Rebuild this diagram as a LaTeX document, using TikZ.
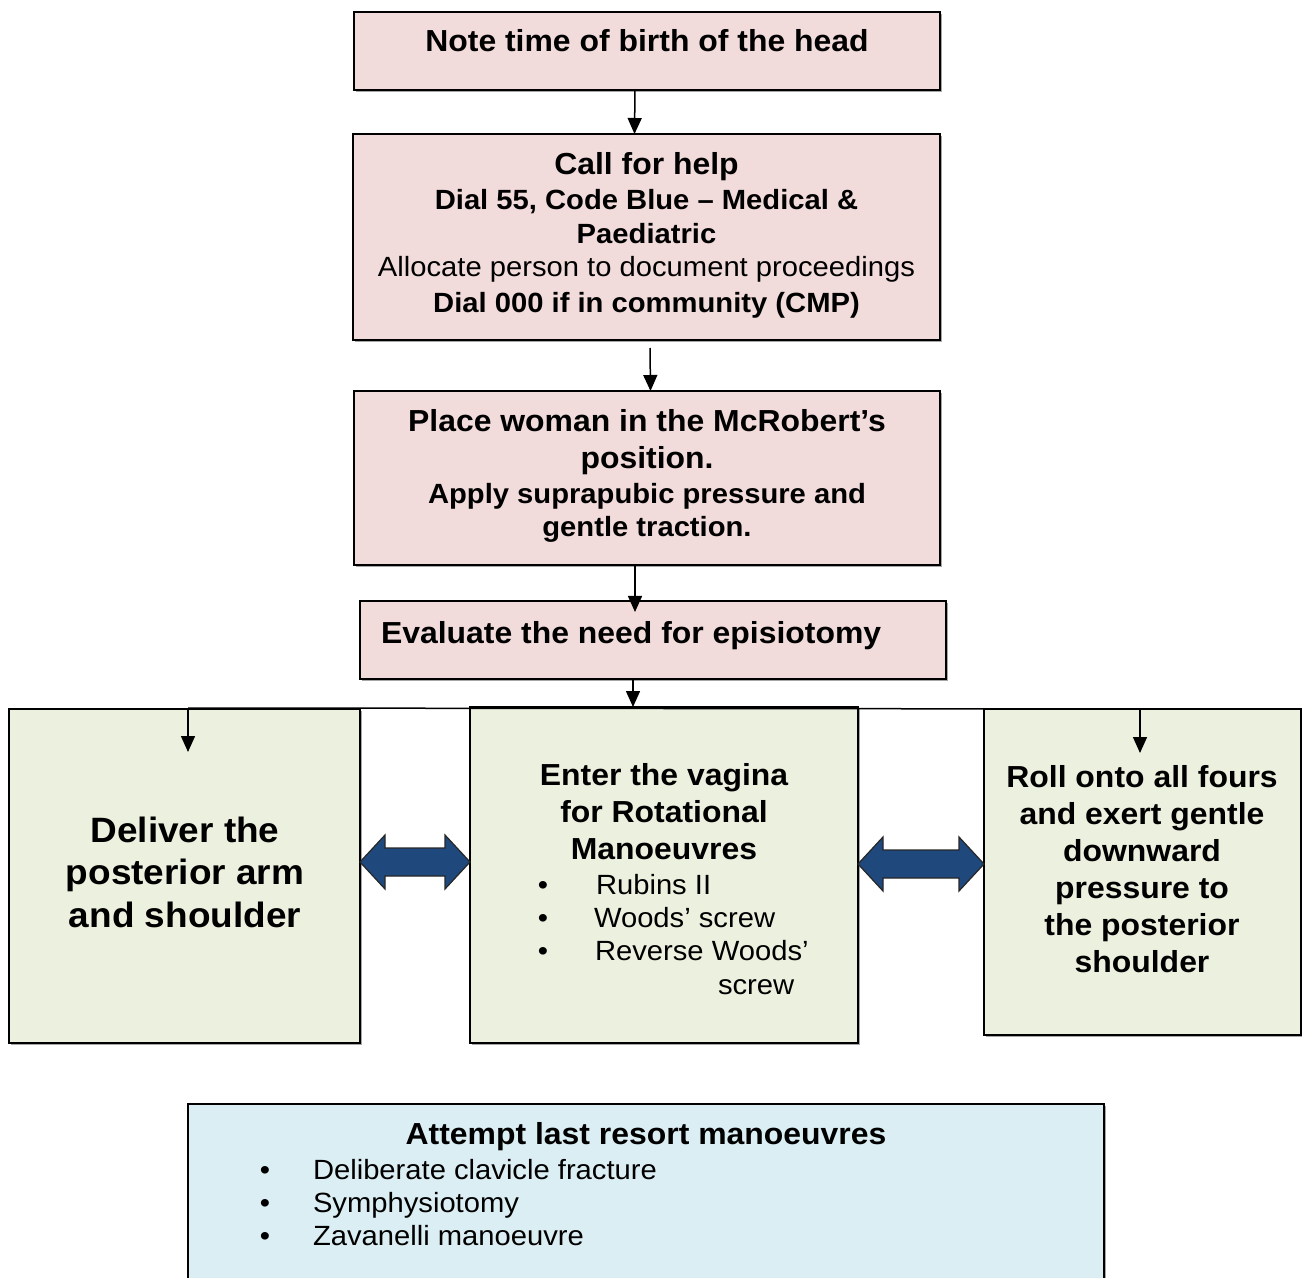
\documentclass[tikz,border=0pt]{standalone}
\usepackage{fontspec}
\setmainfont[FakeStretch=1.05]{Liberation Sans}
\newfontfamily\regfont[FakeStretch=1.05]{Liberation Sans}
\usetikzlibrary{arrows.meta,shadows}
\definecolor{pinkfill}{HTML}{F2DCDB}
\definecolor{greenfill}{HTML}{EBF1DE}
\definecolor{bluefill}{HTML}{DBEEF3}
\definecolor{navyfill}{HTML}{1F497D}
\newcommand{\fBig}{\fontsize{15.2}{18}\selectfont\bfseries}
\newcommand{\fMidB}{\fontsize{13.9}{17}\selectfont\bfseries}
\newcommand{\fReg}{\regfont\fontsize{13.9}{17}\selectfont}
\newcommand{\fHuge}{\fontsize{17.6}{21}\selectfont\bfseries}
\tikzset{
  boxbase/.style={draw=black, line width=0.75pt, inner sep=0pt, outer sep=0pt,
    drop shadow={shadow xshift=1pt, shadow yshift=-1pt, fill=black, opacity=0.35}},
  pinkbox/.style={boxbase, fill=pinkfill},
  greenbox/.style={boxbase, fill=greenfill},
  bluebox/.style={boxbase, fill=bluefill},
  txt/.style={inner sep=0pt, outer sep=0pt, anchor=base, yshift=-1pt},
  txtl/.style={inner sep=0pt, outer sep=0pt, anchor=base west, yshift=-1pt},
  conn/.style={line width=0.75pt, draw=black},
  arr/.style={conn, -{Triangle[width=7pt,length=8pt]}},
  dblarr/.style={fill=navyfill, draw=black!85, line width=0.6pt, line join=miter}
}
\newcommand{\dblarrow}[3]{%
  \path[dblarr] (#1,#3) -- ({#1+25},{#3-27}) -- ({#1+25},{#3-14}) -- ({#2-25},{#3-14})
    -- ({#2-25},{#3-27}) -- (#2,#3) -- ({#2-25},{#3+27}) -- ({#2-25},{#3+14})
    -- ({#1+25},{#3+14}) -- ({#1+25},{#3+27}) -- cycle;}
\begin{document}
\begin{tikzpicture}[x=0.5pt,y=-0.5pt]
\useasboundingbox (0,0) rectangle (1302,1278);
% boxes
\node[pinkbox, minimum width=293pt, minimum height=39pt] (b1) at (647,51) {};
\node[pinkbox, minimum width=293.5pt, minimum height=103pt] (b2) at (646.5,237) {};
\node[pinkbox, minimum width=293pt, minimum height=87pt] (b3) at (647,478) {};
\node[pinkbox, minimum width=293pt, minimum height=39pt] (b4) at (653,640) {};
\node[greenbox, minimum width=175.5pt, minimum height=167pt] (b5) at (184.5,876) {};
\node[greenbox, minimum width=194pt, minimum height=168pt] (b6) at (664,875) {};
\node[greenbox, minimum width=158.5pt, minimum height=163pt] (b7) at (1142.5,872) {};
\node[bluebox, minimum width=458pt, minimum height=89pt] (b8) at (646,1193) {};
% texts box1
\node[txt, font=\fBig] (t1) at (647,50) {Note time of birth of the head};
% box2
\node[txt, font=\fBig] (t2a) at (646.5,173) {Call for help};
\node[txt, font=\fMidB] (t2b) at (646.5,208) {Dial 55, Code Blue -- Medical \&};
\node[txt, font=\fMidB] (t2c) at (646.5,242) {Paediatric};
\node[txt, font=\fReg] (t2d) at (646.5,275) {Allocate person to document proceedings};
\node[txt, font=\fMidB] (t2e) at (646.5,311) {Dial 000 if in community (CMP)};
% box3
\node[txt, font=\fBig] (t3a) at (647,430) {Place woman in the McRobert’s};
\node[txt, font=\fBig] (t3b) at (647,467) {position.};
\node[txt, font=\fMidB] (t3c) at (647,502) {Apply suprapubic pressure and};
\node[txt, font=\fMidB] (t3d) at (647,535) {gentle traction.};
% box4
\node[txtl, font=\fBig] (t4) at (381,642) {Evaluate the need for episiotomy};
% box5
\node[txt, font=\fHuge] (t5a) at (185,840) {Deliver the};
\node[txt, font=\fHuge] (t5b) at (185,882) {posterior arm};
\node[txt, font=\fHuge] (t5c) at (185,925) {and shoulder};
% box6
\node[txt, font=\fBig] (t6a) at (664,783) {Enter the vagina};
\node[txt, font=\fBig] (t6b) at (664,820) {for Rotational};
\node[txt, font=\fBig] (t6c) at (664,857) {Manoeuvres};
\node[txt, font=\fReg] (u6a) at (543,892) {•};
\node[txt, font=\fReg] (u6b) at (543,925) {•};
\node[txt, font=\fReg] (u6c) at (543,958) {•};
\node[txtl, font=\fReg] (t6d) at (596,892) {Rubins II};
\node[txtl, font=\fReg] (t6e) at (594,925) {Woods’ screw};
\node[txtl, font=\fReg] (t6f) at (595,958) {Reverse Woods’};
\node[txtl, font=\fReg] (t6g) at (718,992) {screw};
% box7
\node[txt, font=\fBig] (t7a) at (1142,785) {Roll onto all fours};
\node[txt, font=\fBig] (t7b) at (1142,822) {and exert gentle};
\node[txt, font=\fBig] (t7c) at (1142,859) {downward};
\node[txt, font=\fBig] (t7d) at (1142,896) {pressure to};
\node[txt, font=\fBig] (t7e) at (1142,933) {the posterior};
\node[txt, font=\fBig] (t7f) at (1142,970) {shoulder};
% box8
\node[txt, font=\fBig] (t8a) at (646,1142) {Attempt last resort manoeuvres};
\node[txt, font=\fReg] (u8a) at (265,1177) {•};
\node[txt, font=\fReg] (u8b) at (265,1210) {•};
\node[txt, font=\fReg] (u8c) at (265,1243) {•};
\node[txtl, font=\fReg] (t8b) at (313,1177) {Deliberate clavicle fracture};
\node[txtl, font=\fReg] (t8c) at (313,1210) {Symphysiotomy};
\node[txtl, font=\fReg] (t8d) at (313,1243) {Zavanelli manoeuvre};
% connectors
\draw[arr] ([xshift=-6pt]b1.south) -- ([xshift=-6pt]b2.north);
\draw[arr] ([xshift=1.75pt,yshift=-4pt]b2.south) -- ([xshift=1.75pt]b3.north);
\draw[arr] ([xshift=-6pt]b3.south) -- ([xshift=-9pt,yshift=-5.5pt]b4.north);
\draw[arr] ([xshift=-10pt]b4.south) -- ([xshift=-15.5pt]b6.north);
\coordinate (jl) at ([xshift=1.75pt,yshift=0.5pt]b5.north);
\coordinate (jr) at ([xshift=-1.25pt]b7.north);
\coordinate (el) at ([yshift=-22pt]jl);
\coordinate (er) at ([yshift=-22pt]jr);
\draw[conn] (jl) -- (jr);
\draw[arr] (jl) -- (el);
\draw[arr] (jr) -- (er);
% double arrows
\dblarrow{360}{470}{862}
\dblarrow{858}{984}{864}
\end{tikzpicture}
\end{document}
